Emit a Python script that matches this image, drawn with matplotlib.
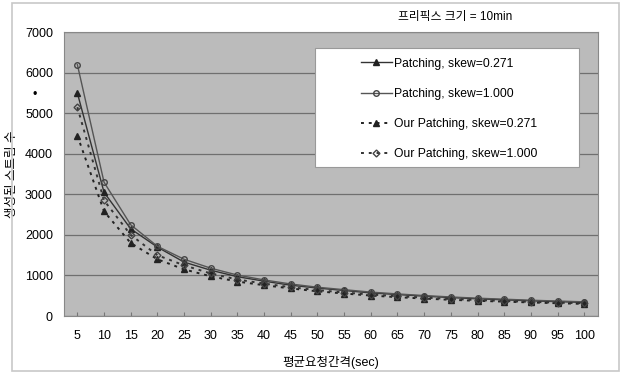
import matplotlib
matplotlib.use("Agg")
import matplotlib.pyplot as plt
from matplotlib.patches import Rectangle

plt.rcParams['font.family'] = ['Liberation Sans', 'Noto Sans CJK KR', 'DejaVu Sans']

x_labels = ['5', '10', '15', '20', '25', '30', '35', '40', '45', '50',
            '55', '60', '65', '70', '75', '80', '85', '90', '95', '100']
patching_0271 = [5500, 3050, 2150, 1700, 1330, 1130, 970, 860, 760, 690,
                 630, 570, 530, 490, 455, 425, 400, 375, 355, 335]
patching_1000 = [6200, 3300, 2250, 1720, 1400, 1180, 1010, 890, 790, 710,
                 650, 590, 545, 505, 470, 440, 415, 390, 370, 350]
our_0271 = [4450, 2580, 1800, 1400, 1150, 980, 850, 760, 680, 610,
            555, 505, 465, 430, 400, 375, 355, 335, 315, 300]
our_1000 = [5150, 2850, 2000, 1500, 1250, 1050, 900, 800, 710, 640,
            580, 530, 490, 455, 420, 395, 370, 350, 330, 315]

fig = plt.figure(figsize=(6.24, 3.74), dpi=100)
fig.patches.append(Rectangle((0.02, 0.008), 0.972, 0.985, transform=fig.transFigure,
                             fill=False, edgecolor='#c8c8c8', linewidth=1.2))
ax = fig.add_axes([0.1026, 0.155, 0.855, 0.759])
ax.set_facecolor('#bbbbbb')

xs = list(range(len(x_labels)))
ax.plot(xs, patching_0271, color='#333333', lw=1.0, marker='^', ms=4,
        mfc='#222222', mec='#222222', label='Patching, skew=0.271')
ax.plot(xs, patching_1000, color='#555555', lw=1.0, marker='o', ms=4,
        mfc='none', mec='#444444', label='Patching, skew=1.000')
ax.plot(xs, our_0271, color='#222222', lw=1.4, ls=(0, (1.5, 2.5)), marker='^', ms=4,
        mfc='#222222', mec='#222222', label='Our Patching, skew=0.271')
ax.plot(xs, our_1000, color='#333333', lw=1.4, ls=(0, (1.5, 2.5)), marker='D', ms=3.5,
        mfc='none', mec='#444444', label='Our Patching, skew=1.000')

ax.set_xlim(-0.5, len(x_labels) - 0.5)
ax.set_ylim(0, 7000)
ax.set_yticks(range(0, 7001, 1000))
ax.set_xticks(xs)
ax.set_xticklabels(x_labels, fontsize=9)
ax.tick_params(axis='y', labelsize=9, length=0, pad=8)
ax.tick_params(axis='x', length=3, direction='in', pad=10, color='#777777')
ax.grid(axis='y', color='#6f6f6f', lw=0.9)
ax.set_axisbelow(True)
for s in ['top', 'right', 'left', 'bottom']:
    ax.spines[s].set_color('#888888')

ax.set_xlabel('평균요청간격(sec)', fontsize=9, labelpad=10)
ax.set_ylabel('생성된 스트림 수', fontsize=9)
ax.yaxis.set_label_coords(-0.086, 0.5)
fig.text(0.73, 0.955, '프리픽스 크기 = 10min', fontsize=8.5, ha='center', va='center')
fig.text(0.056, 0.745, '•', fontsize=9, ha='center', va='center')

# legend box
ax.add_patch(Rectangle((0.47, 0.525), 0.496, 0.419, transform=ax.transAxes,
                       facecolor='white', edgecolor='#999999', lw=0.8, zorder=4))
leg = ax.legend(loc='upper left', bbox_to_anchor=(0.556, 0.91), frameon=False,
                fontsize=8.7, handlelength=2.6, handletextpad=0.2, labelspacing=1.5,
                borderpad=0, borderaxespad=0)
leg.set_zorder(5)

fig.savefig('out.png', dpi=100)
